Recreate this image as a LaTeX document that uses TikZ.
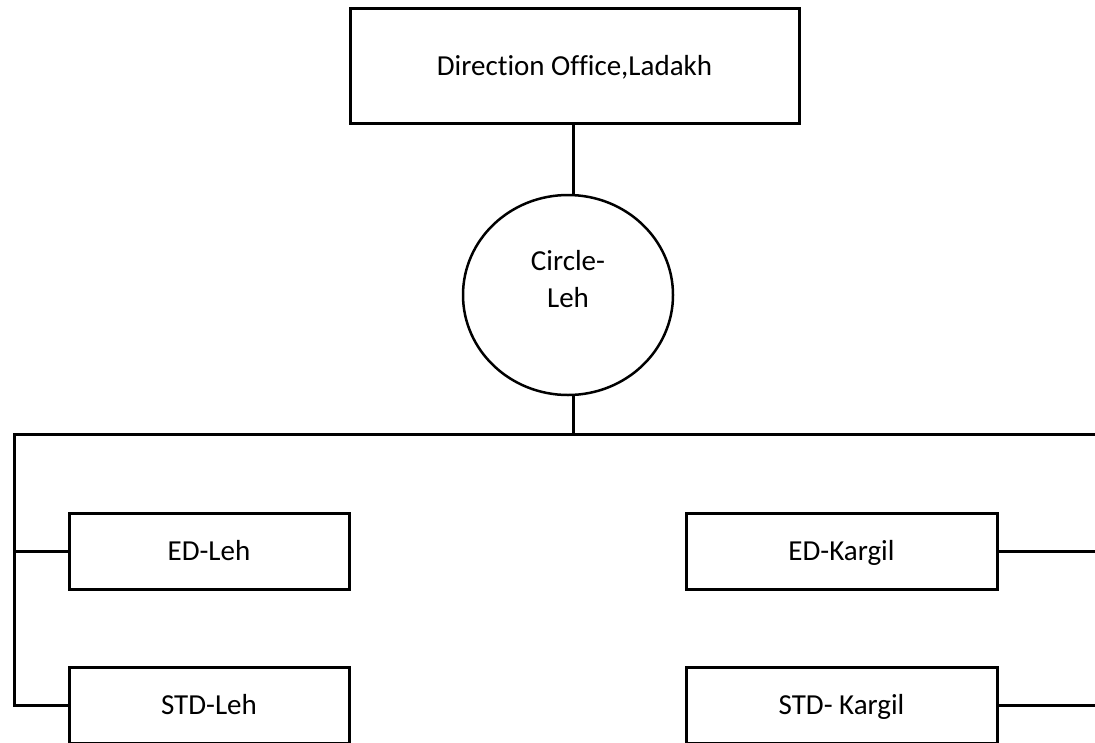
\documentclass[tikz,border=0pt]{standalone}
\usepackage{fontspec}
\setmainfont{Carlito}[Ligatures=NoCommon]
\usetikzlibrary{shapes.geometric}
\begin{document}
\begin{tikzpicture}[x=1pt,y=-1pt,
  label font/.style={font=\fontsize{29}{37}\selectfont},
  box/.style={draw,line width=3pt,rectangle,inner sep=0pt,label font,
    text height=18pt,text depth=0pt},
  unitbox/.style={box,minimum height=76pt},
  wire/.style={line width=3pt,line join=miter},
]
\useasboundingbox (0,0) rectangle (1095,742);
\clip (0,0) rectangle (1095,742);

% head office and circle
\node[box,minimum width=449pt,minimum height=115pt] (dir) at (574.5,66) {Direction Office,Ladakh};
\node[draw,ellipse,line width=2.5pt,minimum width=210pt,minimum height=200pt,inner sep=0pt] (circ) at (568,295) {};
\node[label font,align=center,inner sep=0pt] (circtxt) at (568,279) {Circle-\\Leh};

% divisions
\node[unitbox,minimum width=280pt] (edleh)  at (209,551) {ED-Leh};
\node[unitbox,minimum width=280pt] (stdleh) at (209,705) {STD-Leh};
\node[unitbox,minimum width=311pt] (edkar)  at (841.5,551) {ED-Kargil};
\node[unitbox,minimum width=311pt] (stdkar) at (841.5,705) {STD- Kargil};

% bus coordinates
\coordinate (hub)  at (573,434);
\coordinate (busL) at (14,434);
\coordinate (rim)  at (1100,434);

% connectors
\draw[wire] (dir.south -| hub) -- (circ.north -| hub);
\draw[wire] (circ.south -| hub) -- (hub);
\draw[wire] (rim) -- (busL) |- (stdleh.west);
\draw[wire] (busL |- edleh.west) -- (edleh.west);
\draw[wire] (edkar.east) -- (edkar.east -| rim);
\draw[wire] (stdkar.east) -- (stdkar.east -| rim);
\end{tikzpicture}
\end{document}
